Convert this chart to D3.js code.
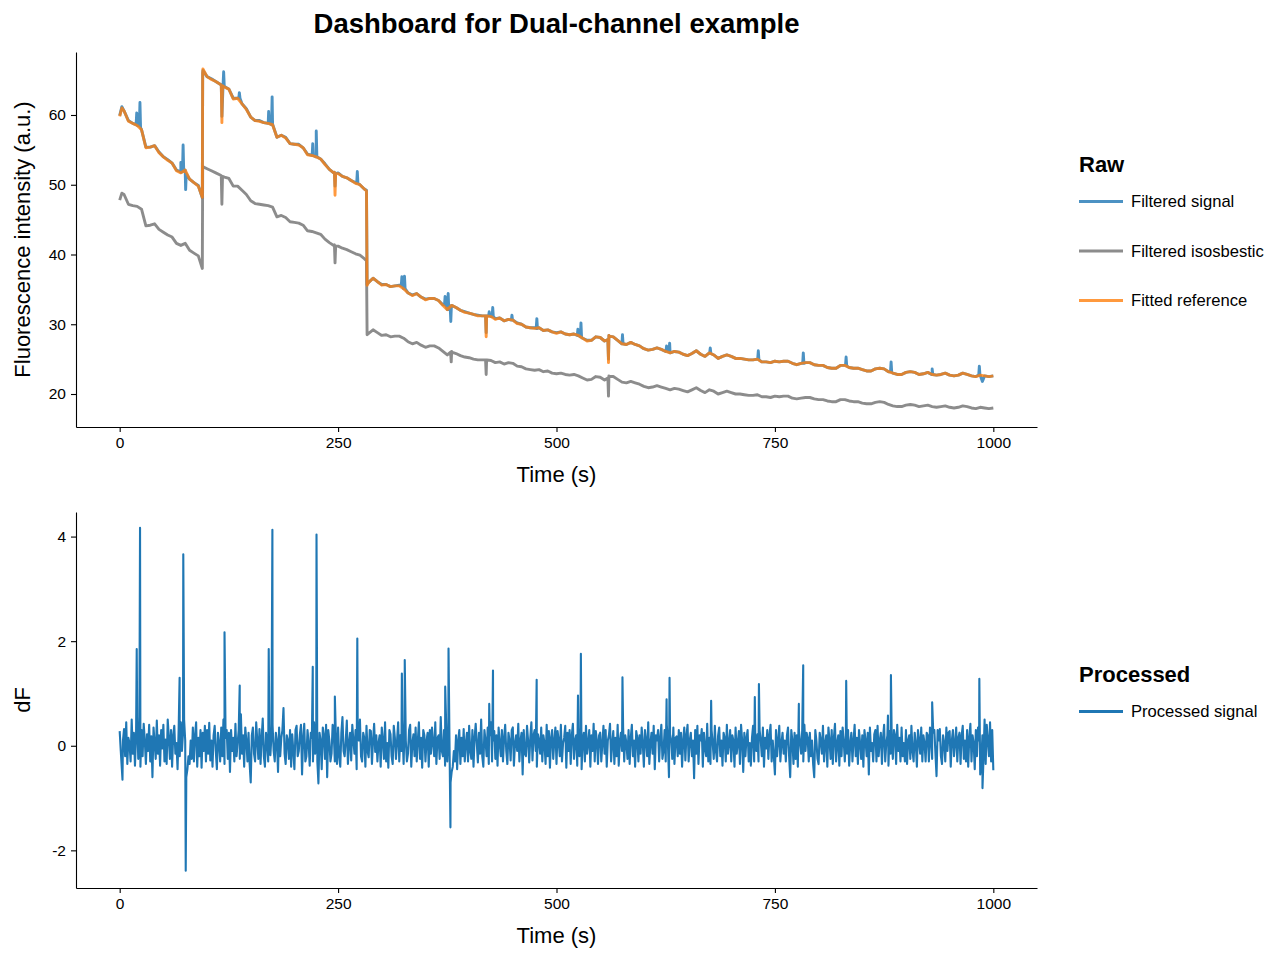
<!DOCTYPE html>
<html>
<head>
<meta charset="utf-8">
<script src="https://cdn.jsdelivr.net/npm/d3@7"></script>
<style>
body { margin: 0; background: #fff; }
svg { font-family: "Liberation Sans", Arial, sans-serif; }
</style>
</head>
<body>
<svg id="chart" width="1280" height="960"></svg>
<script>
/* Data */

// raw traces, sampled every 5 s from 0 to 1000 s
var rawStep = 5;
var isosbestic = [
  47.8,48.6,47.2,47.0,46.9,46.5,44.1,44.2,44.4,43.6,
  43.2,42.8,42.5,41.6,41.3,41.6,40.6,40.2,39.8,52.6,
  52.3,52.0,51.7,51.4,51.1,50.9,49.8,49.8,49.2,48.6,
  47.7,47.3,47.2,47.1,47.0,46.8,45.4,45.6,45.3,44.7,
  44.6,44.5,44.2,43.4,43.3,43.1,42.9,42.2,41.7,41.3,
  41.2,40.9,40.7,40.4,40.1,39.9,39.4,28.7,29.2,28.8,
  28.4,28.5,28.2,28.3,28.3,28.0,27.5,27.2,27.4,27.0,
  26.7,26.9,26.9,26.6,26.1,25.6,26.1,25.8,25.5,25.3,
  25.2,25.0,24.9,24.9,24.9,24.8,24.5,24.6,24.3,24.5,
  24.4,24.0,23.9,23.6,23.5,23.4,23.5,23.2,23.3,23.0,
  22.9,23.0,22.8,22.7,22.8,22.6,22.3,22.0,22.1,22.5,
  22.4,22.0,22.6,22.5,22.1,21.7,21.6,21.8,21.6,21.4,
  21.1,20.9,21.0,21.2,21.0,20.8,20.6,20.8,20.7,20.5,
  20.3,20.6,20.9,20.5,20.2,20.6,20.4,20.0,20.2,20.4,
  20.2,20.0,20.0,19.9,19.8,19.8,19.9,19.6,19.6,19.5,
  19.7,19.6,19.7,19.7,19.4,19.3,19.4,19.5,19.5,19.3,
  19.2,19.2,19.0,18.9,18.9,19.2,19.2,19.0,18.9,18.9,
  18.7,18.6,18.6,18.8,18.9,18.8,18.5,18.3,18.2,18.2,
  18.4,18.5,18.4,18.2,18.3,18.4,18.2,18.1,18.2,18.3,
  18.1,18.0,18.1,18.3,18.2,18.0,17.9,18.1,18.0,17.9,
  18.0
];
var fittedRef = [
  59.8,60.6,59.1,58.8,58.5,57.9,55.3,55.4,55.6,54.6,
  54.0,53.5,53.1,52.0,51.7,52.1,50.8,50.3,49.8,66.0,
  65.5,65.1,64.8,64.4,64.0,63.7,62.3,62.4,61.6,60.8,
  59.7,59.2,59.1,58.9,58.8,58.6,56.8,57.1,56.7,55.9,
  55.8,55.7,55.3,54.3,54.2,54.0,53.7,52.9,52.2,51.7,
  51.6,51.2,51.0,50.6,50.2,50.0,49.4,36.0,36.6,36.1,
  35.6,35.7,35.4,35.5,35.5,35.1,34.5,34.1,34.4,33.9,
  33.5,33.7,33.7,33.4,32.7,32.1,32.7,32.4,32.0,31.7,
  31.6,31.4,31.2,31.2,31.2,31.1,30.7,30.9,30.5,30.7,
  30.6,30.1,30.0,29.6,29.5,29.4,29.5,29.1,29.2,28.9,
  28.7,28.9,28.6,28.5,28.6,28.4,28.0,27.6,27.7,28.2,
  28.1,27.6,28.4,28.2,27.7,27.2,27.1,27.4,27.1,26.9,
  26.5,26.3,26.4,26.6,26.4,26.1,25.9,26.1,26.0,25.7,
  25.5,25.8,26.2,25.7,25.4,25.9,25.6,25.1,25.4,25.6,
  25.4,25.1,25.1,25.0,24.9,24.9,25.0,24.6,24.6,24.5,
  24.7,24.6,24.7,24.7,24.4,24.2,24.4,24.5,24.5,24.2,
  24.1,24.1,23.8,23.7,23.7,24.1,24.1,23.8,23.7,23.7,
  23.5,23.3,23.3,23.6,23.7,23.6,23.2,23.0,22.8,22.8,
  23.1,23.2,23.1,22.8,22.9,23.1,22.8,22.7,22.8,23.0,
  22.7,22.6,22.7,23.0,22.8,22.6,22.5,22.7,22.6,22.5,
  22.6
];
var filteredSignal = [
  59.9,60.6,59.2,58.8,58.5,57.9,55.4,55.4,55.6,54.7,
  54.0,53.6,53.1,52.1,51.8,52.1,50.8,50.3,49.9,66.0,
  65.5,65.2,64.8,64.4,64.1,63.7,62.4,62.4,61.6,60.9,
  59.7,59.2,59.2,58.9,58.8,58.7,56.8,57.1,56.8,55.9,
  55.8,55.8,55.3,54.4,54.2,54.0,53.7,53.0,52.2,51.7,
  51.7,51.2,51.0,50.6,50.3,50.0,49.4,36.0,36.6,36.1,
  35.7,35.7,35.4,35.5,35.6,35.1,34.5,34.2,34.4,33.9,
  33.6,33.7,33.7,33.4,32.8,32.1,32.7,32.4,32.0,31.8,
  31.6,31.4,31.3,31.2,31.2,31.1,30.8,30.9,30.5,30.7,
  30.6,30.2,30.0,29.6,29.5,29.5,29.5,29.1,29.2,28.9,
  28.8,28.9,28.6,28.5,28.6,28.4,28.0,27.7,27.7,28.2,
  28.1,27.6,28.4,28.2,27.7,27.3,27.1,27.4,27.1,26.9,
  26.5,26.3,26.4,26.6,26.4,26.1,25.9,26.1,26.0,25.7,
  25.5,25.8,26.2,25.7,25.4,25.9,25.6,25.1,25.4,25.6,
  25.4,25.1,25.1,25.0,24.9,24.9,25.0,24.6,24.6,24.5,
  24.7,24.6,24.7,24.7,24.4,24.2,24.4,24.5,24.5,24.2,
  24.1,24.1,23.8,23.7,23.7,24.1,24.1,23.8,23.7,23.7,
  23.5,23.3,23.3,23.6,23.7,23.6,23.2,23.0,22.8,22.8,
  23.1,23.2,23.1,22.8,22.9,23.1,22.8,22.7,22.8,23.0,
  22.7,22.6,22.7,23.0,22.8,22.6,22.5,22.7,22.6,22.5,
  22.6
];

// jumps, artifacts and transients that fall between the 5 s samples, with the
// points on either side of each one: [time, value]
var isosbesticEvents = [[2.5,48.8],[94.6,38.0],
  [116.3,51.3],[117,47.2],[117.7,51.2],
  [245.8,41.4],[246.5,38.8],[247.2,41.2],
  [282.5,39.1],[283.2,28.5],
  [378.8,26.0],[379.5,24.6],[380.2,26.0],
  [418.8,24.9],[419.5,22.8],[420.2,24.9],
  [558.8,22.3],[559.5,19.7],[560.2,22.5]];
var fittedEvents = [[2.5,61.0],[94.6,48.2],[95.3,66.6],
  [116.3,64.3],[117,58.9],[117.7,64.2],
  [245.8,51.8],[246.5,48.5],[247.2,51.6],
  [282.5,49.1],[283.2,35.6],
  [418.8,31.2],[419.5,28.2],[420.2,31.2],
  [558.8,27.8],[559.5,24.5],[560.2,28.3]];
var signalEvents = [[2.5,61.2],
  [18.8,58.6],[19.5,60.3],[20.2,58.5],[22.5,58.4],[23.2,61.8],[23.9,58.2],
  [69.3,51.9],[70,53.2],[70.7,51.8],[71.9,51.9],[72.6,55.7],[73.3,52.0],[74.8,52.0],[75.5,49.3],[76.2,51.6],
  [94.6,48.1],[95.3,66.4],
  [116.3,64.3],[117,59.8],[118.3,64.2],[119,66.2],[119.7,64.1],
  [136.3,62.4],[137,63.2],[137.7,62.4],
  [169.8,58.8],[170.5,60.5],[171.2,58.8],[173.8,58.6],[174.5,62.6],[175.2,58.6],
  [220.3,54.2],[221,55.9],[221.7,54.2],[224.3,54.0],[225,57.7],[225.7,54.0],
  [245.8,51.8],[246.5,49.8],[247.2,51.6],
  [271.3,50.2],[272,51.9],[272.7,50.2],
  [282.5,49.2],[283.2,35.7],
  [322.3,35.5],[323,36.8],[323.7,35.5],[325.3,35.2],[326,36.9],[326.7,35.1],
  [371.8,32.8],[372.5,34.0],[373.2,32.7],[375.3,32.2],[376,34.4],[376.7,32.1],
  [378.3,32.6],[379,30.4],[379.7,32.7],
  [418.8,31.2],[419.5,28.8],[420.2,31.2],
  [422.3,31.2],[423,31.8],[423.7,31.2],[426.3,31.1],[427,32.4],[427.7,31.1],
  [448.3,30.6],[449,31.3],[449.7,30.6],
  [476.8,29.4],[477.5,30.8],[478.2,29.4],
  [523.8,28.4],[524.5,29.3],[525.2,28.4],[527.3,28.2],[528,30.2],[528.7,28.1],
  [558.8,27.8],[559.5,25.0],[560.2,28.3],
  [574.8,27.2],[575.5,28.5],[576.2,27.2],
  [625.3,26.1],[626,26.9],[626.7,26.1],[628.8,26.0],[629.5,27.3],[630.2,25.9],
  [675.3,25.9],[676,26.6],[676.7,25.8],
  [730.3,25.0],[731,26.2],[731.7,24.9],
  [781.8,24.4],[782.5,25.9],[783.2,24.4],
  [830.8,24.1],[831.5,25.3],[832.2,24.0],
  [882.3,23.2],[883,24.6],[883.7,23.1],
  [929.3,22.8],[930,23.6],[930.7,22.8],
  [983.3,22.7],[984,24.0],[984.7,22.7],[987.5,21.8]];

// processed dF, sampled every 1.25 s from 0 to 1000 s (one row = 25 s)
var procStep = 1.25;
var processed = [
  0.28,-0.1,-0.45,0.1,0.32,-0.2,0.45,-0.35,0.15,0.05,-0.3,0.5,-0.15,0.25,-0.38,0.2,0.55,-0.25,0.1,-0.4,
  0.3,-0.2,0.42,0.1,-0.35,0.22,-0.1,0.4,-0.3,0.18,-0.6,0.35,0.05,-0.25,0.48,-0.15,0.2,-0.38,0.3,-0.05,
  0.4,-0.3,0.12,-0.35,0.5,0.15,-0.25,0.3,-0.4,0.2,0.38,-0.15,0.05,-0.45,0.32,-0.2,0.45,-0.1,0.25,0.5,
  0.1,-0.6,-0.45,-0.2,-0.35,0.1,-0.25,0.35,-0.3,0.2,0.45,-0.4,0.15,-0.2,0.3,-0.42,0.25,-0.1,0.38,-0.3,
  0.3,-0.15,0.44,-0.28,0.1,-0.4,0.2,0.38,-0.1,-0.45,0.25,0.05,-0.3,0.35,-0.2,0.5,-0.35,0.15,0.3,-0.25,
  0.25,-0.5,0.3,-0.1,0.15,-0.3,0.42,-0.2,0.05,0.3,-0.25,0.6,-0.15,0.2,-0.4,0.35,0.1,-0.3,0.25,-0.35,
  -0.7,0.2,0.35,-0.15,-0.3,0.45,0.1,-0.25,0.32,-0.35,0.15,0.52,-0.2,-0.4,0.25,0.05,-0.3,0.4,-0.18,0.2,
  0.4,-0.1,-0.3,0.25,0.1,-0.5,0.35,-0.2,0.15,0.3,0.72,-0.15,-0.35,0.2,0.1,-0.25,0.3,-0.4,0.22,-0.1,
  -0.45,0.3,0.38,-0.2,-0.1,0.22,0.4,-0.55,0.15,0.42,-0.3,-0.2,0.3,0.05,-0.38,0.25,0.15,-0.3,0.45,-0.15,
  0.2,-0.3,-0.72,0.25,0.1,-0.45,0.35,0.2,-0.25,0.4,-0.6,0.3,0.1,-0.3,-0.15,0.4,0.25,-0.3,0.15,-0.35,
  0.35,-0.2,-0.4,0.25,0.55,-0.1,-0.2,0.1,0.48,-0.35,0.05,0.25,-0.28,0.4,0.1,-0.15,0.3,-0.45,0.2,0.1,
  0.5,-0.2,-0.3,0.25,0.15,-0.4,0.38,-0.1,-0.22,0.3,0.28,-0.35,0.1,0.42,-0.12,0.2,-0.3,0.05,0.2,-0.4,
  0.35,0.1,-0.25,0.45,-0.3,0.05,-0.42,0.3,0.22,-0.2,-0.35,0.38,0.15,-0.25,0.1,0.45,-0.3,0.2,-0.1,0.3,
  -0.35,0.5,0.1,-0.3,-0.15,0.3,0.4,-0.4,0.05,0.22,-0.2,0.35,-0.3,0.1,0.45,-0.25,0.15,-0.42,0.3,0.2,
  -0.3,0.1,0.25,-0.4,0.3,-0.15,0.35,0.05,-0.2,0.45,-0.35,0.15,0.2,-0.25,0.55,-0.1,-0.2,0.3,-0.38,0.4,
  -0.3,0.25,0.1,-0.7,-0.5,-0.4,-0.1,-0.3,0.2,-0.45,0.1,0.3,-0.35,0.15,-0.2,0.32,-0.3,0.05,0.25,-0.3,
  0.38,-0.1,-0.25,0.3,-0.4,0.15,0.42,0.05,-0.32,0.25,-0.15,0.5,-0.2,-0.4,0.3,0.1,-0.2,0.35,-0.35,0.2,
  0.45,-0.3,0.1,0.28,-0.25,0.2,-0.38,0.35,0.05,-0.2,0.3,-0.3,0.15,0.4,-0.1,-0.35,0.25,0.1,-0.28,0.3,
  0.35,-0.38,0.05,0.2,-0.1,0.42,-0.3,0.1,0.25,-0.55,0.3,-0.15,-0.2,0.38,0.1,-0.32,0.15,0.45,-0.28,0.2,
  0.3,-0.1,-0.4,0.22,0.1,-0.15,0.35,-0.3,0.2,0.05,-0.35,0.4,-0.2,0.28,-0.42,0.15,0.3,-0.25,0.1,0.35,
  -0.35,0.28,0.1,-0.2,0.4,-0.3,0.05,0.15,0.38,-0.42,0.25,-0.1,0.3,-0.35,0.2,0.42,-0.25,0.1,0.2,-0.38,
  0.35,-0.2,0.3,-0.45,0.1,0.25,-0.3,0.38,-0.15,0.05,0.3,-0.4,0.2,-0.1,0.42,-0.3,0.28,0.1,-0.35,0.2,
  0.25,-0.3,0.05,0.38,-0.15,0.3,-0.4,0.1,0.2,0.42,-0.3,0.05,0.28,-0.35,0.15,-0.2,0.4,-0.38,0.1,0.25,
  -0.1,0.35,-0.3,0.2,0.05,-0.25,0.3,-0.35,0.15,0.4,-0.2,0.1,-0.4,0.28,0.15,-0.3,0.2,-0.15,0.35,0.05,
  -0.4,0.3,0.1,-0.2,0.45,-0.35,0.05,0.25,-0.15,0.38,-0.45,0.2,0.1,0.3,-0.3,0.15,0.4,-0.25,-0.1,0.3,
  -0.3,0.4,0.05,-0.6,0.22,0.1,-0.25,0.35,-0.35,0.15,0.18,-0.2,0.3,-0.15,0.25,-0.4,0.1,0.35,-0.28,0.2,
  0.4,-0.3,0.1,0.25,-0.2,0.1,-0.62,0.3,-0.15,0.38,-0.35,0.2,0.1,0.32,-0.4,0.25,-0.05,-0.2,0.42,-0.3,
  0.15,-0.35,0.3,0.05,-0.25,0.38,-0.1,-0.3,0.2,0.35,-0.2,0.1,-0.38,0.25,0.15,-0.3,0.4,-0.15,0.05,0.3,
  -0.3,0.2,0.1,-0.4,0.35,-0.15,0.05,0.28,-0.35,0.4,0.1,-0.5,0.25,-0.2,0.15,0.3,-0.3,0.05,-0.38,0.15,
  0.38,-0.3,0.2,-0.1,0.22,-0.3,0.3,0.1,-0.2,0.35,-0.4,0.15,-0.05,0.3,-0.25,0.2,0.4,-0.3,0.1,-0.2,
  -0.55,0.3,-0.2,0.1,0.38,-0.3,0.05,0.25,-0.15,0.1,-0.3,0.2,0.35,-0.2,-0.6,0.3,0.1,-0.35,0.25,-0.25,
  0.2,-0.4,0.3,0.05,-0.15,0.3,-0.3,0.4,-0.1,0.25,0.15,-0.3,0.25,-0.2,0.1,-0.35,-0.6,0.3,0.1,-0.25,
  -0.35,0.25,0.1,-0.15,0.38,-0.3,0.05,0.2,-0.4,0.35,0.1,-0.25,0.3,-0.35,0.15,0.42,-0.3,0.05,0.2,-0.38,
  0.28,-0.2,0.35,0.1,-0.3,0.2,-0.15,0.3,-0.38,0.05,0.25,-0.3,0.1,0.4,-0.2,0.15,-0.35,0.3,0.05,-0.25,
  0.2,-0.4,0.3,0.1,-0.2,0.25,-0.55,0.35,-0.1,0.05,-0.3,0.22,0.3,-0.3,0.38,-0.2,0.1,0.25,-0.35,0.15,
  0.4,-0.3,0.05,0.2,-0.38,0.28,-0.15,0.1,-0.25,0.3,0.2,-0.35,0.4,-0.1,0.15,-0.3,0.35,-0.2,0.05,-0.3,
  0.3,-0.35,0.1,0.2,-0.25,0.38,-0.1,-0.3,0.25,0.05,-0.4,0.3,0.1,-0.15,0.35,-0.3,0.2,0.05,-0.3,0.25,
  0.2,-0.3,0.35,0.1,-0.25,0.25,0.3,-0.15,-0.58,0.3,0.1,0.32,-0.2,-0.35,0.2,0.05,-0.3,0.35,-0.1,0.25,
  0.28,-0.4,0.1,0.3,-0.2,0.05,0.35,-0.3,0.15,0.25,-0.35,0.2,0.38,-0.25,0.1,-0.3,0.3,-0.4,0.15,0.42,
  -0.3,0.2,0.05,-0.45,0.3,-0.2,0.35,0.1,-0.55,-0.3,0.2,-0.25,0.5,-0.35,0.4,0.1,-0.2,0.45,-0.3,0.3,
  -0.47
];
// transients in dF: [time, value]
var processedEvents = [[3.2,-0.65],[19.5,1.85],[23.3,4.17],[68.6,1.3],[72.8,3.66],[75.6,-2.39],[120,2.17],
  [137.4,1.15],[170.6,1.85],[174.8,4.13],[221,1.51],[225.3,4.04],[246.3,0.94],[272,2.05],[323,1.38],
  [326.3,1.64],[372.6,1.13],[376.4,1.86],[378.6,-1.56],[423,0.8],[427.3,1.44],[477.3,1.26],[524.6,0.96],
  [527.9,1.76],[575.5,1.31],[626,0.89],[629.4,1.3],[677,0.86],[727,0.93],[731.7,1.18],[777.4,0.8],
  [782.4,1.54],[831.6,1.24],[879.4,0.58],[882.8,1.35],[930,0.83],[984,1.28],[987.6,-0.81]];

var timeDomain = [-50, 1050];
var timeTicks = [0, 250, 500, 750, 1000];
var rawDomain = [15.27, 69.03];
var rawTicks = [20, 30, 40, 50, 60];
var procDomain = [-2.72, 4.47];
var procTicks = [-2, 0, 2, 4];

var rawLegend = [
  {label: "Filtered signal", color: "#1f77b4", opacity: 0.8},
  {label: "Filtered isosbestic", color: "#7f7f7f", opacity: 0.9},
  {label: "Fitted reference", color: "#ff7f0e", opacity: 0.8}
];
var procLegend = [{label: "Processed signal", color: "#1f77b4", opacity: 1}];

/* Helpers */

function buildSeries(step, values, events) { // samples on their grid plus the extra points, in time order
  var pts = values.map(function(v, i) { return [i * step, v]; });
  return pts.concat(events).sort(function(a, b) { return a[0] - b[0]; });
}

var svg = d3.select("#chart");
var left = 76, right = 1037;

var x = d3.scaleLinear().domain(timeDomain).range([left, right]);

function drawAxes(g, y, yTicks, top, bottom, yLabel) {
  var xAxis = d3.axisBottom(x).tickValues(timeTicks).tickSize(5).tickPadding(5).tickSizeOuter(0)
    .tickFormat(function(d) { return String(d); });
  var yAxis = d3.axisLeft(y).tickValues(yTicks).tickSize(5).tickPadding(5).tickSizeOuter(0)
    .tickFormat(function(d) { return String(d); });
  var gx = g.append("g").attr("transform", "translate(0," + bottom + ")").call(xAxis);
  var gy = g.append("g").attr("transform", "translate(" + left + ",0)").call(yAxis);
  [gx, gy].forEach(function(a) {
    a.select(".domain").attr("stroke", "#000").attr("stroke-width", 1.1);
    a.selectAll(".tick line").attr("stroke", "#000").attr("stroke-width", 1.1);
    a.selectAll(".tick text").attr("fill", "#000").style("font-size", "15.5px")
      .style("font-family", "'Liberation Sans', Arial, sans-serif");
  });
  g.append("text").attr("x", (left + right) / 2).attr("y", bottom + 55)
    .attr("text-anchor", "middle").style("font-size", "22px").text("Time (s)");
  g.append("text").attr("transform", "translate(29.5," + (top + bottom) / 2 + ") rotate(-90)")
    .attr("text-anchor", "middle").style("font-size", "22px").text(yLabel);
}

function drawLegend(g, title, items, titleY, firstY, gap, width) {
  g.append("text").attr("x", 1079).attr("y", titleY)
    .style("font-size", "22px").style("font-weight", "bold").text(title);
  items.forEach(function(d, i) {
    var yy = firstY + i * gap;
    g.append("line").attr("x1", 1079).attr("x2", 1123).attr("y1", yy).attr("y2", yy)
      .attr("stroke", d.color).attr("stroke-opacity", d.opacity).attr("stroke-width", width);
    g.append("text").attr("x", 1131).attr("y", yy + 5.8)
      .style("font-size", "16.6px").text(d.label);
  });
}

/* Title */
svg.append("text").attr("x", (left + right) / 2).attr("y", 33)
  .attr("text-anchor", "middle").style("font-size", "27.5px").style("font-weight", "bold")
  .text("Dashboard for Dual-channel example");

/* Raw panel */
var topTop = 52, topBottom = 427;
var yRaw = d3.scaleLinear().domain(rawDomain).range([topBottom, topTop]);
var gRaw = svg.append("g");
var rawLine = d3.line().x(function(d) { return x(d[0]); }).y(function(d) { return yRaw(d[1]); });

var rawSeries = [
  buildSeries(rawStep, filteredSignal, signalEvents),
  buildSeries(rawStep, isosbestic, isosbesticEvents),
  buildSeries(rawStep, fittedRef, fittedEvents)
];
gRaw.selectAll("path.trace").data(rawSeries).enter().append("path")
  .attr("class", "trace")
  .attr("d", rawLine)
  .attr("fill", "none")
  .attr("stroke", function(d, i) { return rawLegend[i].color; })
  .attr("stroke-opacity", function(d, i) { return rawLegend[i].opacity; })
  .attr("stroke-width", 2.9)
  .attr("stroke-linejoin", "round");
drawAxes(gRaw, yRaw, rawTicks, topTop, topBottom, "Fluorescence intensity (a.u.)");
drawLegend(gRaw, "Raw", rawLegend, 171.5, 201.5, 49.5, 3.2);

/* Processed panel */
var botTop = 512, botBottom = 888;
var yProc = d3.scaleLinear().domain(procDomain).range([botBottom, botTop]);
var gProc = svg.append("g");
var procLine = d3.line().x(function(d) { return x(d[0]); }).y(function(d) { return yProc(d[1]); });
gProc.append("path")
  .datum(buildSeries(procStep, processed, processedEvents))
  .attr("d", procLine)
  .attr("fill", "none")
  .attr("stroke", "#1f77b4")
  .attr("stroke-width", 2.1)
  .attr("stroke-linejoin", "round");
drawAxes(gProc, yProc, procTicks, botTop, botBottom, "dF");
drawLegend(gProc, "Processed", procLegend, 682, 711.5, 0, 3.2);
</script>
</body>
</html>
